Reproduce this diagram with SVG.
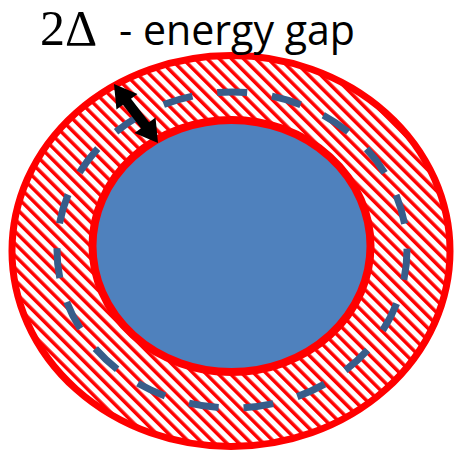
<svg xmlns="http://www.w3.org/2000/svg" width="463" height="455" viewBox="0 0 463 455">
  <defs>
    <pattern id="hatch" patternUnits="userSpaceOnUse" width="8.6" height="8.6" patternTransform="rotate(-45)">
      <rect x="0" y="0" width="8.6" height="8.6" fill="#FFFFFF"/>
      <rect x="0" y="0" width="3.5" height="8.6" fill="#FF0000"/>
    </pattern>
    <style>
      .red { stroke: #FF0000; }
      .serif { font-family: "Liberation Serif", "Times New Roman", serif; fill: #000; }
      .sans { font-family: "Open Sans", "Liberation Sans", sans-serif; fill: #000; }
    </style>
  </defs>
  <rect width="463" height="455" fill="#FFFFFF"/>
  <g id="outer-band">
    <ellipse cx="231" cy="251" rx="219" ry="195.5" fill="url(#hatch)" class="red" stroke-width="7"/>
  </g>
  <g id="fermi-surface">
    <ellipse cx="232" cy="250" rx="175" ry="158" fill="none" stroke="#385D8A" stroke-width="7" stroke-dasharray="30 25"/>
  </g>
  <g id="inner-sphere">
    <ellipse cx="231.5" cy="246" rx="139" ry="126" fill="#4F81BD" class="red" stroke-width="8"/>
  </g>
  <g id="connectors">
    <polygon fill="#000000" points="114,84 137.46,94.12 131.0,98.84 149.08,122.28 155.54,117.56 158,143 134.54,132.88 141.0,128.17 122.92,104.72 116.46,109.44"/>
  </g>
  <g id="label">
    <text class="serif" x="40" y="45" font-size="50">2Δ</text>
    <text class="sans" x="119" y="45" font-size="42" textLength="236" lengthAdjust="spacingAndGlyphs">- energy gap</text>
  </g>
</svg>
